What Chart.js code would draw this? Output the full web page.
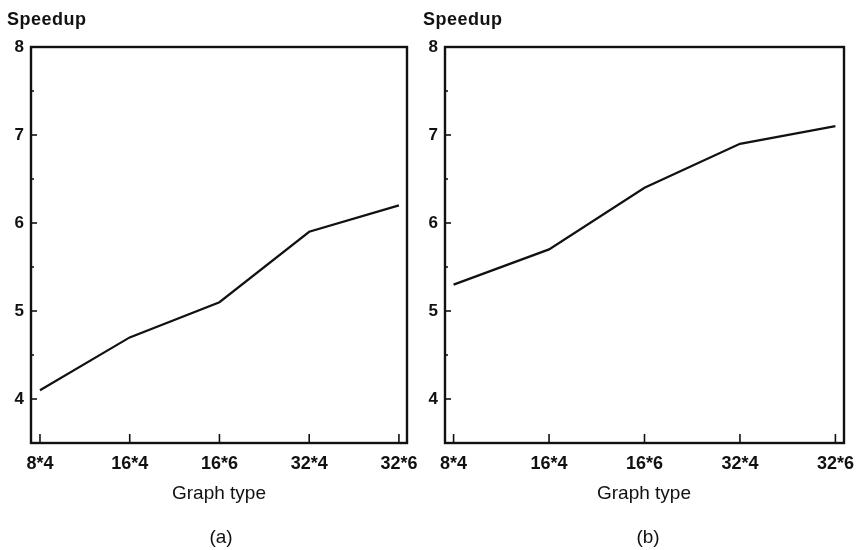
<!DOCTYPE html>
<html>
<head>
<meta charset="utf-8">
<script src="https://cdn.jsdelivr.net/npm/chart.js@4.4.1/dist/chart.umd.min.js"></script>
<style>
    body { margin: 0; background: #fff; }
    #wrap { position: relative; width: 859px; height: 550px; overflow: hidden; font-family: "Liberation Sans", Arial, sans-serif; color: #111; }
    canvas { position: absolute; top: 0; }
    .lbl { position: absolute; transform: translate(-50%, -50%); white-space: nowrap; }
    .ytitle { position: absolute; font-weight: bold; font-size: 18px; letter-spacing: 0.5px; }
</style>
</head>
<body>
<div id="wrap">
    <canvas id="chartA" width="425" height="550" style="left:0;width:425px;height:550px"></canvas>
    <canvas id="chartB" width="434" height="550" style="left:425px;width:434px;height:550px"></canvas>
    <div class="ytitle" style="left:7px;top:9px">Speedup</div>
    <div class="ytitle" style="left:423px;top:9px">Speedup</div>
    <div class="lbl" style="left:219px;top:493px;font-size:19px">Graph type</div>
    <div class="lbl" style="left:644px;top:493px;font-size:19px">Graph type</div>
    <div class="lbl" style="left:221px;top:537px;font-size:19px">(a)</div>
    <div class="lbl" style="left:648px;top:537px;font-size:19px">(b)</div>
</div>
<script>
// graph types on the x axis
const graphTypes = ["8*4", "16*4", "16*6", "32*4", "32*6"];
// speedup values
const speedupA = [4.1, 4.7, 5.1, 5.9, 6.2];
const speedupB = [5.3, 5.7, 6.4, 6.9, 7.1];
const yMin = 3.5;
const yMax = 8;

// draws the box round the plot and the inward ticks, from the scales
const boxAndTicks = {
    id: "boxAndTicks",
    afterDraw(chart) {
        const ctx = chart.ctx;
        const area = chart.chartArea;
        const xs = chart.scales.x;
        const ys = chart.scales.y;
        ctx.save();
        ctx.strokeStyle = "#111";
        ctx.lineWidth = 1.6;
        ys.ticks.forEach(t => {
            const py = ys.getPixelForValue(t.value);
            const major = Number.isInteger(t.value);
            if (t.value <= yMin || t.value >= yMax) return;
            ctx.beginPath();
            ctx.moveTo(area.left, py);
            ctx.lineTo(area.left + (major ? 6 : 3), py);
            ctx.stroke();
        });
        xs.ticks.forEach(t => {
            if (!Number.isInteger(t.value)) return;
            const px = xs.getPixelForValue(t.value);
            ctx.beginPath();
            ctx.moveTo(px, area.bottom);
            ctx.lineTo(px, area.bottom - 9);
            ctx.stroke();
        });
        ctx.lineWidth = 2.4;
        ctx.strokeRect(area.left, area.top, area.right - area.left, area.bottom - area.top);
        ctx.restore();
    }
};

function makeChart(id, values, yWidth, padRight, xMin, xMax) {
    const points = values.map((v, i) => ({ x: i, y: v }));
    return new Chart(document.getElementById(id), {
        type: "line",
        data: {
            datasets: [{
                data: points,
                borderColor: "#111",
                borderWidth: 2.2,
                pointRadius: 0,
                tension: 0,
                fill: false
            }]
        },
        options: {
            responsive: false,
            animation: false,
            layout: { padding: { top: 47, right: padRight, bottom: 0, left: 0 } },
            plugins: { legend: { display: false }, tooltip: { enabled: false } },
            scales: {
                x: {
                    type: "linear",
                    min: xMin,
                    max: xMax,
                    grid: { display: false, drawTicks: false },
                    border: { display: false },
                    ticks: {
                        stepSize: 1,
                        includeBounds: false,
                        maxRotation: 0,
                        autoSkip: false,
                        padding: 10,
                        color: "#111",
                        font: { family: "Liberation Sans", size: 18, weight: "bold" },
                        callback: v => Number.isInteger(v) ? graphTypes[v] : ""
                    },
                    afterFit: s => { s.height = 107; s.paddingLeft = 0; s.paddingRight = 0; }
                },
                y: {
                    min: yMin,
                    max: yMax,
                    grid: { display: false, drawTicks: false },
                    border: { display: false },
                    ticks: {
                        stepSize: 0.5,
                        autoSkip: false,
                        padding: 7,
                        color: "#111",
                        font: { family: "Liberation Sans", size: 17, weight: "bold" },
                        callback: v => (Number.isInteger(v) && v >= 4) ? String(v) : ""
                    },
                    afterFit: s => { s.width = yWidth; s.paddingTop = 0; s.paddingBottom = 0; }
                }
            }
        },
        plugins: [boxAndTicks]
    });
}

document.addEventListener("DOMContentLoaded", function () {
    makeChart("chartA", speedupA, 31, 18, -0.1, 4.09);
    makeChart("chartB", speedupB, 20, 15, -0.09, 4.09);
});
</script>
</body>
</html>
